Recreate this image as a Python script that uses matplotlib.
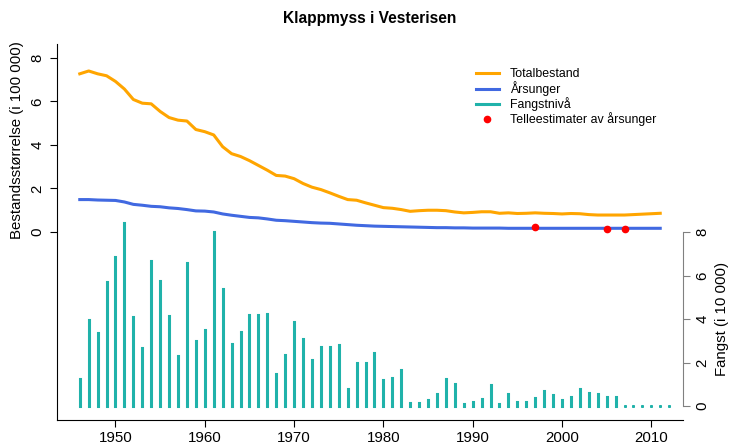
import matplotlib.pyplot as plt
from matplotlib.lines import Line2D

plt.rcParams['font.family'] = ['Liberation Sans', 'DejaVu Sans']

# years
years = list(range(1946, 2012))
catch_years = list(range(1946, 2013))

# Totalbestand (i 100 000)
total = [7.27, 7.40, 7.27, 7.18, 6.92, 6.57, 6.09, 5.92, 5.89, 5.54,
         5.26, 5.14, 5.10, 4.71, 4.61, 4.46, 3.92, 3.60, 3.47, 3.28,
         3.06, 2.84, 2.60, 2.57, 2.45, 2.23, 2.06, 1.95, 1.80, 1.64,
         1.49, 1.46, 1.34, 1.23, 1.12, 1.09, 1.03, 0.95, 0.98, 1.00,
         1.00, 0.98, 0.92, 0.88, 0.90, 0.93, 0.93, 0.86, 0.88, 0.85,
         0.86, 0.88, 0.86, 0.85, 0.83, 0.85, 0.84, 0.80, 0.78, 0.78,
         0.78, 0.78, 0.80, 0.82, 0.84, 0.86]

# Årsunger (i 100 000)
pups = [1.49, 1.49, 1.47, 1.46, 1.45, 1.38, 1.27, 1.23, 1.18, 1.16,
        1.11, 1.08, 1.03, 0.97, 0.96, 0.92, 0.83, 0.77, 0.72, 0.67,
        0.65, 0.60, 0.54, 0.52, 0.49, 0.46, 0.43, 0.41, 0.40, 0.37,
        0.34, 0.31, 0.29, 0.27, 0.26, 0.25, 0.24, 0.23, 0.22, 0.21,
        0.20, 0.20, 0.19, 0.19, 0.18, 0.18, 0.18, 0.18, 0.17, 0.17,
        0.17, 0.17, 0.17, 0.17, 0.17, 0.17, 0.17, 0.17, 0.17, 0.17,
        0.17, 0.17, 0.17, 0.17, 0.17, 0.17]

# Fangst (i 10 000)
catch = [1.23, 3.94, 3.36, 5.72, 6.85, 8.41, 4.08, 2.68, 6.68, 5.76,
         4.15, 2.30, 6.57, 2.99, 3.49, 7.98, 5.36, 2.85, 3.40, 4.18,
         4.18, 4.25, 1.47, 2.36, 3.85, 3.10, 2.10, 2.73, 2.73, 2.80,
         0.80, 1.96, 1.98, 2.44, 1.20, 1.29, 1.66, 0.15, 0.15, 0.29,
         0.57, 1.24, 1.00, 0.09, 0.20, 0.32, 0.97, 0.11, 0.55, 0.18,
         0.17, 0.36, 0.70, 0.51, 0.28, 0.44, 0.78, 0.61, 0.55, 0.44,
         0.43, 0.0, 0.0, 0.0, 0.0, 0.0, 0.0]

# Telleestimater av årsunger
count_years = [1997, 2005, 2007]
count_vals = [0.21, 0.14, 0.14]

orange = '#FFA500'
blue = '#4169E1'
teal = '#20B2AA'

fig = plt.figure(figsize=(7.29, 4.46), dpi=100)
ax = fig.add_axes([57/729, 26/446, 626/729, 376/446])
ax2 = ax.twinx()

ax.plot(years, total, color=orange, lw=2.2, solid_joinstyle='round')
ax.plot(years, pups, color=blue, lw=2.2, solid_joinstyle='round')
ax.plot(count_years, count_vals, 'o', color='red', ms=4.5, zorder=5)
# catch as vertical lines with round ends (R type="h")
for yr, c in zip(catch_years, catch):
    ax2.plot([yr, yr], [0, c], color=teal, lw=2.2, marker='o', ms=2.2,
             mew=0, mfc=teal)

ax.set_xlim(1943.45, 2013.55)
ax.set_ylim(-8.64, 8.64)
ax2.set_ylim(-0.64, 16.64)

# axes styling
for s in ['top', 'right']:
    ax.spines[s].set_visible(False)
for s in ['top', 'left', 'bottom']:
    ax2.spines[s].set_visible(False)
ax2.spines['right'].set_bounds(0, 8)
ax2.spines['right'].set_color('#808080')

ax.set_xticks(range(1950, 2011, 10))
ax.set_yticks(range(0, 9, 2))
ax2.set_yticks(range(0, 9, 2))
ax.tick_params(axis='x', length=5, labelsize=10.8, pad=3)
ax.tick_params(axis='y', length=5, labelsize=10.8, pad=4, labelrotation=90)
ax2.tick_params(axis='y', length=5, labelsize=10.8, pad=4, labelrotation=90,
                color='#808080')
for t in ax.get_yticklabels() + ax2.get_yticklabels():
    t.set_va('center')

# axis titles
fig.text(17/729, 1 - 140/446, 'Bestandsstørrelse (i 100 000)', fontsize=10.8,
         rotation=90, ha='center', va='center')
fig.text(722/729, 1 - 319/446, 'Fangst (i 10 000)', fontsize=10.8,
         rotation=90, ha='center', va='center')

ax.set_title('Klappmyss i Vesterisen', fontsize=11.2, fontweight='bold', pad=15)

handles = [Line2D([], [], color=orange, lw=2.2),
           Line2D([], [], color=blue, lw=2.2),
           Line2D([], [], color=teal, lw=2.2),
           Line2D([], [], color='red', marker='o', ls='', ms=4.5)]
labels = ['Totalbestand', 'Årsunger', 'Fangstnivå', 'Telleestimater av årsunger']
ax.legend(handles, labels, loc='upper left', bbox_to_anchor=(476/729, 1 - 68/446),
          bbox_transform=fig.transFigure, frameon=False, fontsize=8.9,
          handlelength=1.86, handletextpad=0.89, labelspacing=0.1,
          borderpad=0, borderaxespad=0)

fig.savefig('out.png', dpi=100)
